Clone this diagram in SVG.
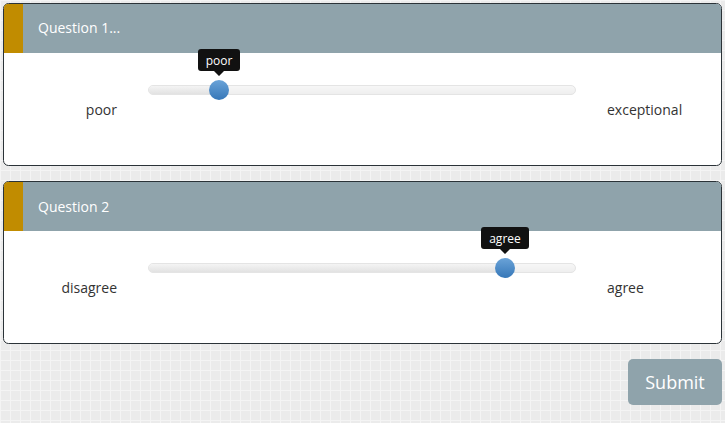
<svg xmlns="http://www.w3.org/2000/svg" width="725" height="423" viewBox="0 0 725 423">
<defs>
<pattern id="grid" width="10" height="10" patternUnits="userSpaceOnUse">
<rect width="10" height="10" fill="#ebebeb"/>
<path d="M0 0.5H10M0.5 0V10" stroke="#f4f4f4" stroke-width="1"/>
</pattern>
<linearGradient id="track" x1="0" y1="0" x2="0" y2="1">
<stop offset="0" stop-color="#f7f7f7"/>
<stop offset="1" stop-color="#eeeeee"/>
</linearGradient>
<linearGradient id="fill" x1="0" y1="0" x2="0" y2="1">
<stop offset="0" stop-color="#f4f4f4"/>
<stop offset="1" stop-color="#e2e2e2"/>
</linearGradient>
<linearGradient id="knob" x1="0" y1="0" x2="0" y2="1">
<stop offset="0" stop-color="#6aa3d8"/>
<stop offset="1" stop-color="#3677b8"/>
</linearGradient>
<style>
.card{fill:#fff;stroke:#2b3338;stroke-width:1}
.hdr{fill:#8fa3ab}
.bar{fill:#c18c00}
.ht{font-family:"Open Sans","Noto Sans",sans-serif;font-size:14px;fill:#fff}
.lbl{font-family:"Open Sans","Noto Sans",sans-serif;font-size:14px;fill:#333}
.tip{fill:#111}
.tt{font-family:"Open Sans","Noto Sans",sans-serif;font-size:12px;fill:#fff}
.trk{fill:url(#track);stroke:#e4e4e4;stroke-width:1}
.knob{fill:url(#knob)}
</style>
</defs>
<rect width="725" height="423" fill="url(#grid)"/>
<g id="question1">
<rect class="card" x="3.5" y="3.5" width="718" height="162" rx="5"/>
<path class="hdr" d="M4 8a4 4 0 0 1 4-4H717a4 4 0 0 1 4 4V53H4Z"/>
<path class="bar" d="M4 8a4 4 0 0 1 4-4H23V53H4Z"/>
<text class="ht" x="38" y="33">Question 1...</text>
<rect class="trk" x="148.5" y="85.5" width="427" height="9" rx="4.5"/>
<path d="M153 86H219V94H153a4 4 0 0 1 0-8Z" fill="url(#fill)"/>
<circle class="knob" cx="219" cy="90" r="10"/>
<path class="tip" d="M201 49H237a3 3 0 0 1 3 3V68a3 3 0 0 1-3 3H224L219 76L214 71H201a3 3 0 0 1-3-3V52a3 3 0 0 1 3-3Z"/>
<text class="tt" x="219" y="65" text-anchor="middle">poor</text>
<text class="lbl" x="117" y="115" text-anchor="end">poor</text>
<text class="lbl" x="607" y="115">exceptional</text>
</g>
<g id="question2">
<rect class="card" x="3.5" y="181.5" width="718" height="162" rx="5"/>
<path class="hdr" d="M4 186a4 4 0 0 1 4-4H717a4 4 0 0 1 4 4V231H4Z"/>
<path class="bar" d="M4 186a4 4 0 0 1 4-4H23V231H4Z"/>
<text class="ht" x="38" y="212">Question 2</text>
<rect class="trk" x="148.5" y="263.5" width="427" height="9" rx="4.5"/>
<path d="M153 264H505V272H153a4 4 0 0 1 0-8Z" fill="url(#fill)"/>
<circle class="knob" cx="505" cy="268" r="10"/>
<path class="tip" d="M484 227H526a3 3 0 0 1 3 3V246a3 3 0 0 1-3 3H510L505 254L500 249H484a3 3 0 0 1-3-3V230a3 3 0 0 1 3-3Z"/>
<text class="tt" x="505" y="243" text-anchor="middle">agree</text>
<text class="lbl" x="117" y="293" text-anchor="end">disagree</text>
<text class="lbl" x="607" y="293">agree</text>
</g>
<g id="submit">
<rect x="628" y="359" width="94" height="46" rx="5" fill="#8fa3ab"/>
<text x="675" y="389" text-anchor="middle" font-family="'Open Sans','Noto Sans',sans-serif" font-size="18" fill="#fff">Submit</text>
</g>
<g id="connectors"/>
</svg>
